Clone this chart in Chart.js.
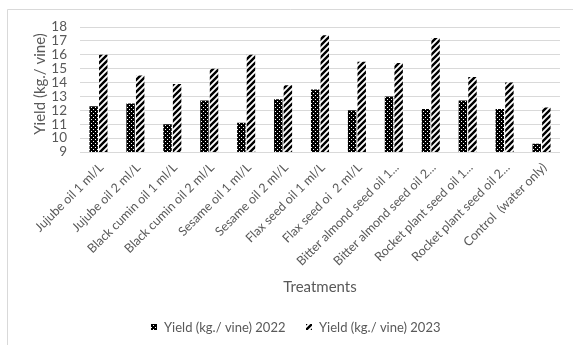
<!DOCTYPE html>
<html>
<head>
<meta charset="utf-8">
<script src="https://cdn.jsdelivr.net/npm/chart.js@4"></script>
<style>
  html, body { margin: 0; padding: 0; background: #fff; }
  #wrap { width: 573px; height: 345px; position: relative; }
</style>
</head>
<body>
<div id="wrap"><canvas id="c"></canvas></div>
<script>
// Treatments (x categories)
const categories = [
  'Jujube oil 1 ml/L',
  'Jujube oil 2 ml/L',
  'Black cumin oil 1 ml/L',
  'Black cumin oil 2 ml/L',
  'Sesame oil 1 ml/L',
  'Sesame oil 2 ml/L',
  'Flax seed oil 1 ml/L',
  'Flax seed oi  2 ml/L',
  'Bitter almond seed oil 1...',
  'Bitter almond seed oil 2...',
  'Rocket plant seed oil 1...',
  'Rocket plant seed oil 2...',
  'Control  (water only)'
];

// Yield per vine (kg)
const yield2022 = [12.3, 12.5, 11.0, 12.7, 11.1, 12.8, 13.5, 12.0, 13.0, 12.1, 12.7, 12.1, 9.6];
const yield2023 = [16.0, 14.5, 13.9, 15.0, 16.0, 13.8, 17.4, 15.5, 15.4, 17.2, 14.4, 14.0, 12.2];

const seriesNames = ['Yield (kg./ vine) 2022', 'Yield (kg./ vine) 2023'];
const yTicks = [9, 10, 11, 12, 13, 14, 15, 16, 17, 18];
const xTitle = 'Treatments';
const yTitle = 'Yield (kg./ vine)';

const FONT = 'Lato, "Open Sans", sans-serif';
const TEXT = '#595959';
const GRID = '#d9d9d9';

// Black fill with a grid of white dots
function dotPattern() {
  const t = document.createElement('canvas');
  t.width = 4; t.height = 4;
  const g = t.getContext('2d');
  g.fillStyle = '#000';
  g.fillRect(0, 0, 4, 4);
  g.fillStyle = '#fff';
  g.fillRect(1, 1, 1, 1);
  g.fillRect(3, 3, 1, 1);
  return g.createPattern(t, 'repeat');
}

// White fill with wide upward diagonal black stripes
function stripePattern() {
  const s = 6;
  const t = document.createElement('canvas');
  t.width = s; t.height = s;
  const g = t.getContext('2d');
  g.fillStyle = '#fff';
  g.fillRect(0, 0, s, s);
  g.strokeStyle = '#000';
  g.lineWidth = 2.4;
  g.beginPath();
  g.moveTo(-1, 1); g.lineTo(1, -1);
  g.moveTo(0, s); g.lineTo(s, 0);
  g.moveTo(s - 1, s + 1); g.lineTo(s + 1, s - 1);
  g.stroke();
  return g.createPattern(t, 'repeat');
}

const fills = [dotPattern(), stripePattern()];

// Frame, axis titles and legend
const decorations = {
  id: 'decorations',
  beforeDraw(chart) {
    const ctx = chart.ctx;
    ctx.save();
    ctx.fillStyle = '#fff';
    ctx.fillRect(0, 0, chart.width, chart.height);
    ctx.strokeStyle = GRID;
    ctx.lineWidth = 1;
    ctx.beginPath();
    ctx.moveTo(7.5, 345); ctx.lineTo(7.5, 9.5); ctx.lineTo(573, 9.5);
    ctx.stroke();
    ctx.restore();
  },
  afterDraw(chart) {
    const ctx = chart.ctx;
    const area = chart.chartArea;
    ctx.save();
    ctx.fillStyle = TEXT;
    ctx.textBaseline = 'middle';
    ctx.textAlign = 'center';
    ctx.font = '15px ' + FONT;
    ctx.fillText(xTitle, (area.left + area.right) / 2, 287);

    ctx.save();
    ctx.translate(40, 84);
    ctx.rotate(-Math.PI / 2);
    ctx.fillText(yTitle, 0, 0);
    ctx.restore();

    ctx.font = '13px ' + FONT;
    ctx.textAlign = 'left';
    const items = [{ x: 151 }, { x: 306 }];
    chart.data.datasets.forEach((ds, i) => {
      const bx = items[i].x;
      ctx.fillStyle = ds.backgroundColor;
      ctx.fillRect(bx, 324, 6, 6);
      ctx.fillStyle = TEXT;
      ctx.fillText(ds.label, bx + 13, 327.5);
    });
    ctx.restore();
  }
};

new Chart(document.getElementById('c'), {
  type: 'bar',
  data: {
    labels: categories,
    datasets: [
      { label: seriesNames[0], data: yield2022, backgroundColor: fills[0], borderWidth: 0 },
      { label: seriesNames[1], data: yield2023, backgroundColor: fills[1], borderWidth: 0 }
    ]
  },
  options: {
    responsive: true,
    maintainAspectRatio: false,
    animation: false,
    events: [],
    layout: { padding: { left: 8, top: 27, right: 13, bottom: 0 } },
    datasets: { bar: { categoryPercentage: 0.52, barPercentage: 0.88 } },
    plugins: { legend: { display: false }, tooltip: { enabled: false } },
    scales: {
      x: {
        grid: { display: false, drawTicks: false },
        border: { display: false },
        ticks: {
          autoSkip: false, maxRotation: 45, minRotation: 45, padding: 8, labelOffset: 3,
          color: TEXT, font: { family: FONT, size: 12.5 }
        },
        afterFit(scale) { scale.height = 193; }
      },
      y: {
        min: 9, max: 18,
        grid: { color: GRID, drawTicks: false, lineWidth: 1 },
        border: { display: false },
        afterBuildTicks(scale) { scale.ticks = yTicks.map(v => ({ value: v })); },
        ticks: { autoSkip: false, padding: 13, color: TEXT, font: { family: FONT, size: 13.5 } },
        afterFit(scale) { scale.width = 72; }
      }
    }
  },
  plugins: [decorations]
});
</script>
</body>
</html>
